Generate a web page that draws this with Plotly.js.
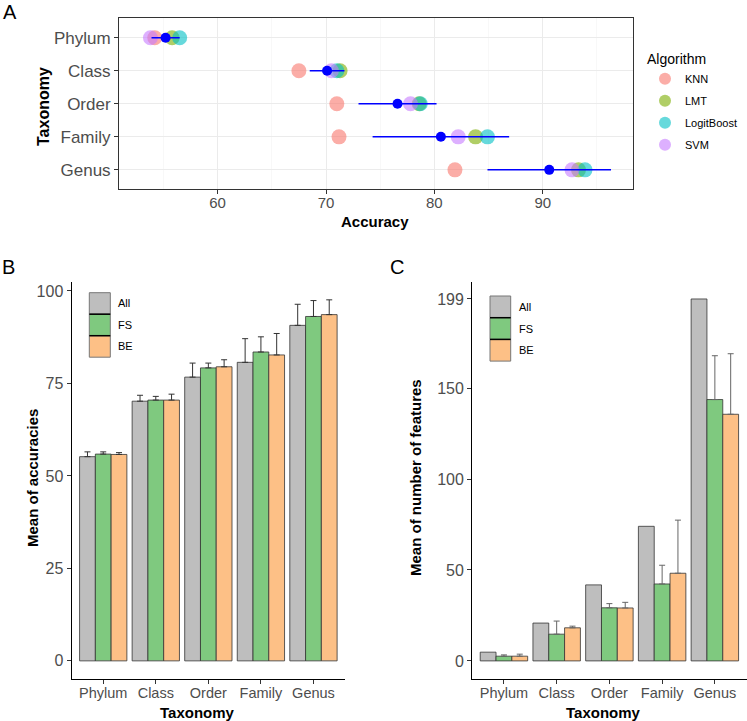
<!DOCTYPE html>
<html>
<head>
<meta charset="utf-8">
<script src="https://cdn.plot.ly/plotly-3.0.1.min.js"></script>
<style>body{margin:0;background:#fff}</style>
</head>
<body>
<div id="chart" style="width:747px;height:721px"></div>
<script>
// taxonomy levels and algorithms
var taxa = ['Phylum', 'Class', 'Order', 'Family', 'Genus'];
var algorithms = ['KNN', 'LMT', 'LogitBoost', 'SVM'];
var algoColors = ['#F8766D', '#7CAE00', '#00BFC4', '#C77CFF'];

// panel A: accuracy per algorithm
var accKNN = [54.2, 67.5, 71.0, 71.2, 81.9];
var accLMT = [55.8, 71.3, 78.6, 83.8, 93.3];
var accLogitBoost = [56.5, 71.0, 78.7, 84.9, 93.9];
var accSVM = [53.8, 70.5, 77.8, 82.2, 92.7];
var accMean = [55.2, 70.1, 76.6, 80.6, 90.6];
var accSd = [1.3, 1.6, 3.6, 6.3, 5.7];

// panel B: mean of accuracies
var methods = ['All', 'FS', 'BE'];
var methodColors = ['#BEBEBE', '#7FC97F', '#FDC086'];
var meanAccAll = [55.2, 70.2, 76.7, 80.7, 90.7];
var meanAccFS = [55.9, 70.5, 79.2, 83.5, 93.1];
var meanAccBE = [55.8, 70.5, 79.5, 82.7, 93.6];
var sdAccAll = [1.3, 1.6, 3.8, 6.4, 5.7];
var sdAccFS = [0.6, 1.0, 1.3, 4.1, 4.3];
var sdAccBE = [0.5, 1.6, 1.9, 5.8, 4.0];

// panel C: mean of number of features
var featAll = [4.8, 20.8, 41.8, 74.0, 199];
var featFS = [2.6, 14.7, 29.2, 42.3, 143.7];
var featBE = [2.6, 18.2, 29.1, 48.2, 135.6];
var sdFeatFS = [0.7, 7.2, 2.3, 10.3, 24.1];
var sdFeatBE = [1.1, 0.9, 3.1, 29.2, 33.3];

var W = 747, H = 721;
function px(x) { return x / W; }
function py(y) { return 1 - y / H; }

var FONT = 'Liberation Sans, Arial, sans-serif';
var zeros = [0, 0, 0, 0, 0];

var data = [];
var accByAlgo = [accKNN, accLMT, accLogitBoost, accSVM];
for (var i = 0; i < algorithms.length; i++) {
    data.push({
        x: accByAlgo[i],
        y: taxa,
        type: 'scatter',
        mode: 'markers',
        name: algorithms[i],
        legendgroup: algorithms[i],
        marker: {color: algoColors[i], size: 15, opacity: 0.6},
        xaxis: 'x', yaxis: 'y'
    });
}
data.push({
    x: accMean,
    y: taxa,
    type: 'scatter',
    mode: 'markers',
    showlegend: false,
    marker: {color: '#0000FF', size: 10},
    error_x: {type: 'data', array: accSd, color: '#0000FF', thickness: 1.5, width: 0},
    xaxis: 'x', yaxis: 'y'
});

function barTrace(vals, sd, idx, ax, errColor) {
    var t = {
        x: taxa,
        y: vals,
        type: 'bar',
        name: methods[idx],
        showlegend: false,
        marker: {color: methodColors[idx], line: {color: '#333333', width: 0.8}},
        xaxis: 'x' + ax, yaxis: 'y' + ax
    };
    if (sd) {
        t.error_y = {type: 'data', symmetric: false, array: sd, arrayminus: zeros,
            color: errColor, thickness: 1, width: 3};
    }
    return t;
}
data.push(barTrace(meanAccAll, sdAccAll, 0, 2, '#333333'));
data.push(barTrace(meanAccFS, sdAccFS, 1, 2, '#333333'));
data.push(barTrace(meanAccBE, sdAccBE, 2, 2, '#333333'));
data.push(barTrace(featAll, null, 0, 3, '#666666'));
data.push(barTrace(featFS, sdFeatFS, 1, 3, '#666666'));
data.push(barTrace(featBE, sdFeatBE, 2, 3, '#666666'));

// legend boxes for B and C
var shapes = [];
var annotations = [];
function boxLegend(x0, y0, w, h) {
    for (var i = 0; i < methods.length; i++) {
        shapes.push({type: 'rect', xref: 'paper', yref: 'paper',
            x0: px(x0), x1: px(x0 + w), y0: py(y0 + (i + 1) * h), y1: py(y0 + i * h),
            fillcolor: methodColors[i], line: {color: '#777777', width: 1}});
        annotations.push({xref: 'paper', yref: 'paper', x: px(x0 + w + 6), y: py(y0 + i * h + h / 2),
            xanchor: 'left', yanchor: 'middle', showarrow: false, text: methods[i],
            font: {family: FONT, size: 11, color: '#000'}});
    }
    for (var j = 1; j < methods.length; j++) {
        shapes.push({type: 'line', xref: 'paper', yref: 'paper',
            x0: px(x0), x1: px(x0 + w), y0: py(y0 + j * h), y1: py(y0 + j * h),
            line: {color: '#000000', width: 1.5}});
    }
}
boxLegend(89.3, 292.7, 21, 21.5);
boxLegend(490, 296, 20.7, 21.7);

function label(text, x, y, size, bold, angle) {
    annotations.push({xref: 'paper', yref: 'paper', x: px(x), y: py(y),
        xanchor: 'center', yanchor: 'middle', showarrow: false, text: text,
        textangle: angle || 0,
        font: {family: FONT, size: size, color: '#000', weight: bold ? 'bold' : 'normal'}});
}
// panel letters
label('A', 10, 12, 20);
label('B', 8, 267, 20);
label('C', 397, 267, 20);
// axis titles
label('Accuracy', 375, 222, 15, true);
label('Taxonomy', 44, 107, 16, true, -90);
label('Taxonomy', 197, 712, 15, true);
label('Mean of accuracies', 32, 478, 15, true, -90);
label('Taxonomy', 603, 712, 15, true);
label('Mean of number of features', 415, 478, 15, true, -90);

var barX = {
    type: 'category', categoryarray: taxa, range: [-0.6, 4.6],
    showline: true, linecolor: '#000', linewidth: 1.2, showgrid: false, zeroline: false,
    ticks: 'outside', ticklen: 4, tickcolor: '#333', ticklabelstandoff: -4,
    tickfont: {family: FONT, size: 14.5, color: '#4D4D4D'},
    automargin: false
};
var barY = {
    showline: true, linecolor: '#000', linewidth: 1.2, showgrid: false, zeroline: false,
    ticks: 'outside', ticklen: 4, tickcolor: '#333',
    tickfont: {family: FONT, size: 16, color: '#4D4D4D'},
    automargin: false
};
function copy(o, extra) {
    var r = JSON.parse(JSON.stringify(o));
    for (var k in extra) r[k] = extra[k];
    return r;
}

var layout = {
    width: W, height: H,
    margin: {l: 0, r: 0, t: 0, b: 0},
    paper_bgcolor: '#fff', plot_bgcolor: 'rgba(0,0,0,0)',
    font: {family: FONT},
    barmode: 'group', bargap: 0.1, bargroupgap: 0,
    showlegend: true,
    legend: {
        x: px(645), y: py(46), xanchor: 'left', yanchor: 'top',
        title: {text: 'Algorithm', font: {family: FONT, size: 14, color: '#000'}},
        font: {family: FONT, size: 11, color: '#000'},
        itemsizing: 'constant', bgcolor: 'rgba(0,0,0,0)',
        tracegroupgap: 3
    },
    xaxis: {
        domain: [px(119), px(632.7)], anchor: 'y', range: [50.9, 98.3],
        tickvals: [60, 70, 80, 90],
        showline: true, mirror: true, linecolor: '#333', linewidth: 1,
        showgrid: true, gridcolor: '#EBEBEB', gridwidth: 1, zeroline: false,
        minor: {dtick: 5, tick0: 0, showgrid: true, gridcolor: '#F4F4F4', gridwidth: 0.6},
        ticks: 'outside', ticklen: 4, tickcolor: '#333', ticklabelstandoff: -4,
        tickfont: {family: FONT, size: 15, color: '#4D4D4D'},
        automargin: false
    },
    yaxis: {
        domain: [py(189), py(18.3)], anchor: 'x', type: 'category', categoryarray: taxa,
        range: [4.58, -0.59],
        showline: true, mirror: true, linecolor: '#333', linewidth: 1,
        showgrid: true, gridcolor: '#EBEBEB', gridwidth: 1,
        ticks: 'outside', ticklen: 4, tickcolor: '#333',
        tickfont: {family: FONT, size: 17, color: '#4D4D4D'},
        automargin: false
    },
    xaxis2: copy(barX, {domain: [px(71.7), px(345)], anchor: 'y2'}),
    yaxis2: copy(barY, {domain: [py(679), py(281.7)], anchor: 'x2', range: [-4.9, 102.5],
        tickvals: [0, 25, 50, 75, 100]}),
    xaxis3: copy(barX, {domain: [px(472.3), px(746.5)], anchor: 'y3'}),
    yaxis3: copy(barY, {domain: [py(679), py(281.7)], anchor: 'x3', range: [-9.95, 208.5],
        tickvals: [0, 50, 100, 150, 199]}),
    shapes: shapes,
    annotations: annotations
};

Plotly.newPlot('chart', data, layout, {displayModeBar: false, staticPlot: true});
</script>
</body>
</html>
